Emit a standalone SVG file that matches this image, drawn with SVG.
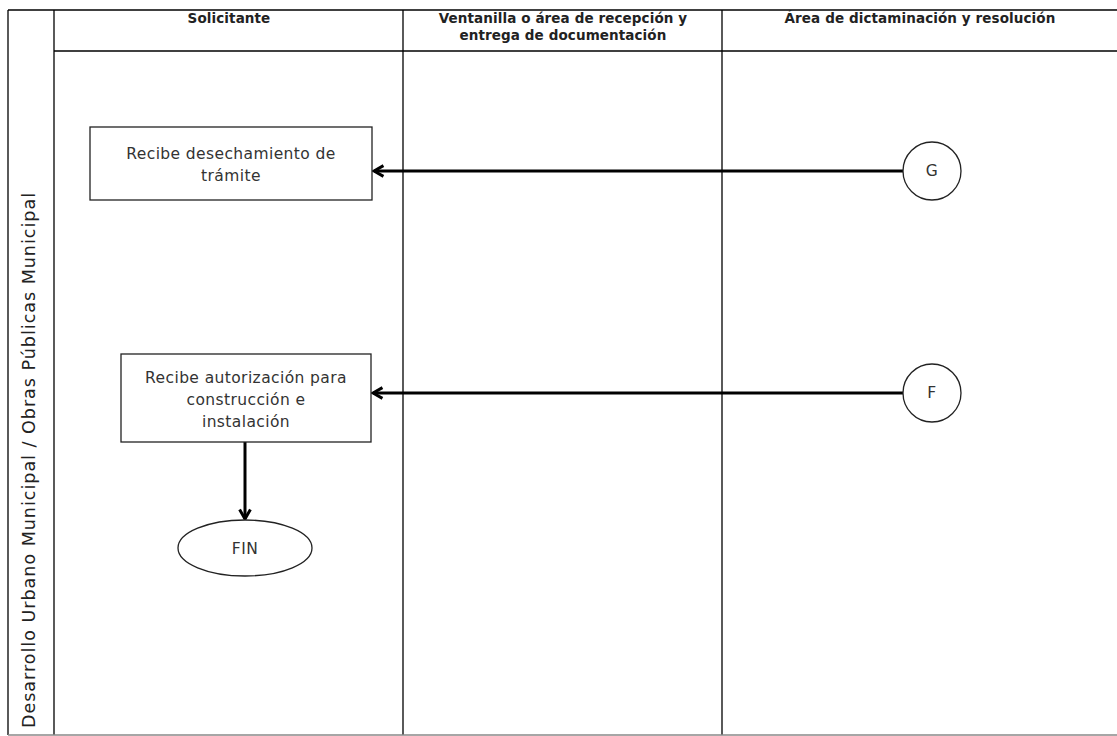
<svg xmlns="http://www.w3.org/2000/svg" width="1117" height="736" viewBox="0 0 1117 736">
<defs>
<style>
.ln{stroke:#000;stroke-width:1.3;fill:none}
.hd{font-family:"DejaVu Sans",Arial,sans-serif;font-weight:bold;font-size:13.5px;letter-spacing:0.1px;fill:#222;text-anchor:middle}
.tx{font-family:"DejaVu Sans",Arial,sans-serif;font-size:15.5px;letter-spacing:0.4px;fill:#333;text-anchor:middle}
.nd{fill:#fff;stroke:#222;stroke-width:1.3}
.cn{stroke:#000;stroke-width:3;fill:none}
</style>
<marker id="ah" viewBox="0 0 10 10" refX="8.5" refY="5" markerWidth="4.5" markerHeight="4.5" orient="auto-start-reverse" markerUnits="strokeWidth">
<path d="M1.5,1 L8.5,5 L1.5,9" fill="none" stroke="#000" stroke-width="2.2"/>
</marker>
</defs>
<rect width="1117" height="736" fill="#fff"/>
<g id="pool">
<line class="ln" x1="8" y1="10" x2="1117" y2="10"/>
<line class="ln" x1="8" y1="10" x2="8" y2="735"/>
<line class="ln" x1="54" y1="10" x2="54" y2="735"/>
<line class="ln" x1="54" y1="51" x2="1117" y2="51"/>
<line class="ln" x1="403" y1="10" x2="403" y2="735"/>
<line class="ln" x1="722" y1="10" x2="722" y2="735"/>
<line x1="8" y1="735" x2="1117" y2="735" stroke="#888" stroke-width="1.5"/>
<text class="hd" x="229" y="23">Solicitante</text>
<text class="hd" x="563" y="23">Ventanilla o área de recepción y</text>
<text class="hd" x="563" y="40">entrega de documentación</text>
<text class="hd" x="920" y="23">Área de dictaminación y resolución</text>
<text x="30" y="460" transform="rotate(-90 30 460)" font-family="'DejaVu Sans',Arial,sans-serif" font-size="17.5" letter-spacing="1" fill="#222" text-anchor="middle" dominant-baseline="middle">Desarrollo Urbano Municipal / Obras Públicas Municipal</text>
</g>
<g id="connectors">
<line class="cn" x1="903" y1="171" x2="374" y2="171" marker-end="url(#ah)"/>
<line class="cn" x1="903" y1="393" x2="373" y2="393" marker-end="url(#ah)"/>
<line class="cn" x1="245" y1="442" x2="245" y2="519" marker-end="url(#ah)"/>
</g>
<g id="n-desechamiento">
<rect class="nd" x="90" y="127" width="282" height="73"/>
<text class="tx" x="231" y="159">Recibe desechamiento de</text>
<text class="tx" x="231" y="181">trámite</text>
</g>
<g id="n-g">
<circle class="nd" cx="932" cy="171" r="29"/>
<text class="tx" x="932" y="176" font-size="13">G</text>
</g>
<g id="n-autorizacion">
<rect class="nd" x="121" y="354" width="250" height="88"/>
<text class="tx" x="246" y="383">Recibe autorización para</text>
<text class="tx" x="246" y="405">construcción e</text>
<text class="tx" x="246" y="427">instalación</text>
</g>
<g id="n-f">
<circle class="nd" cx="932" cy="393" r="29"/>
<text class="tx" x="932" y="398" font-size="13">F</text>
</g>
<g id="n-fin">
<ellipse class="nd" cx="245" cy="548" rx="67" ry="28"/>
<text class="tx" x="245" y="554">FIN</text>
</g>
</svg>
